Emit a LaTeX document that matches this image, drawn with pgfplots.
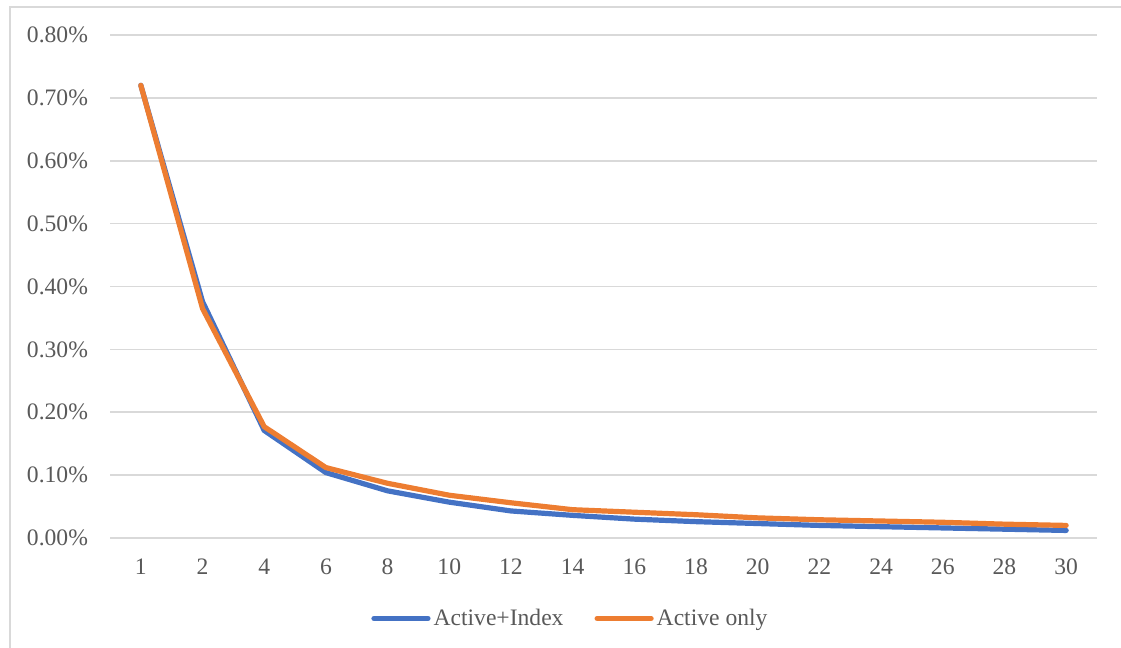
\documentclass[border=0pt]{standalone}
\usepackage{pgfplots}
\pgfplotsset{compat=1.18}
\usepackage{fontspec}
\setmainfont{Liberation Serif}

\definecolor{seriesblue}{HTML}{4472C4}
\definecolor{seriesorange}{HTML}{ED7D31}
\definecolor{gridgray}{HTML}{D9D9D9}
\definecolor{labelgray}{HTML}{595959}
\definecolor{framegray}{HTML}{D9D9D9}

\begin{document}
\begin{tikzpicture}
\useasboundingbox (0,0) rectangle (560.5pt,324pt);
% chart frame
\draw[framegray, line width=0.75pt] (5pt,0pt) -- (5pt,320.5pt) -- (560.5pt,320.5pt);

\begin{axis}[
  at={(55pt,55pt)}, anchor=south west,
  scale only axis,
  width=493.5pt, height=251.5pt,
  xmin=-0.5, xmax=15.5,
  ymin=0, ymax=0.8,
  xtick={0,...,15},
  xticklabels={1,2,4,6,8,10,12,14,16,18,20,22,24,26,28,30},
  ytick={0,0.1,...,0.8},
  yticklabel={\pgfmathprintnumber[fixed,fixed zerofill,precision=2]{\tick}\%},
  /pgf/number format/assume math mode=true,
  font=\fontsize{11.8}{14}\selectfont,
  tick label style={text=labelgray},
  xticklabel style={yshift=-7pt},
  yticklabel style={xshift=-7.5pt},
  axis line style={draw=none},
  tick style={draw=none},
  ymajorgrids,
  grid style={gridgray, line width=0.8pt},
  legend columns=2,
  legend style={
    at={(0.467,-0.16)}, anchor=center,
    draw=none, fill=none,
    font=\fontsize{11.8}{14}\selectfont,
    text=labelgray,
    nodes={inner xsep=1.5pt},
    /tikz/every even column/.append style={column sep=14pt},
  },
  legend image code/.code={\draw[#1, line cap=round] (0pt,0pt) -- (27pt,0pt);},
]
\addplot[seriesblue, line width=2.6pt, line join=round, line cap=round] coordinates {
  (0,0.720) (1,0.376) (2,0.171) (3,0.104) (4,0.075) (5,0.057) (6,0.043) (7,0.036)
  (8,0.030) (9,0.026) (10,0.023) (11,0.020) (12,0.018) (13,0.016) (14,0.014) (15,0.012)
};
\addlegendentry{Active+Index}
\addplot[seriesorange, line width=2.6pt, line join=round, line cap=round] coordinates {
  (0,0.720) (1,0.365) (2,0.177) (3,0.112) (4,0.087) (5,0.068) (6,0.056) (7,0.045)
  (8,0.041) (9,0.037) (10,0.032) (11,0.029) (12,0.027) (13,0.025) (14,0.022) (15,0.020)
};
\addlegendentry{Active only}
\end{axis}
\end{tikzpicture}
\end{document}
